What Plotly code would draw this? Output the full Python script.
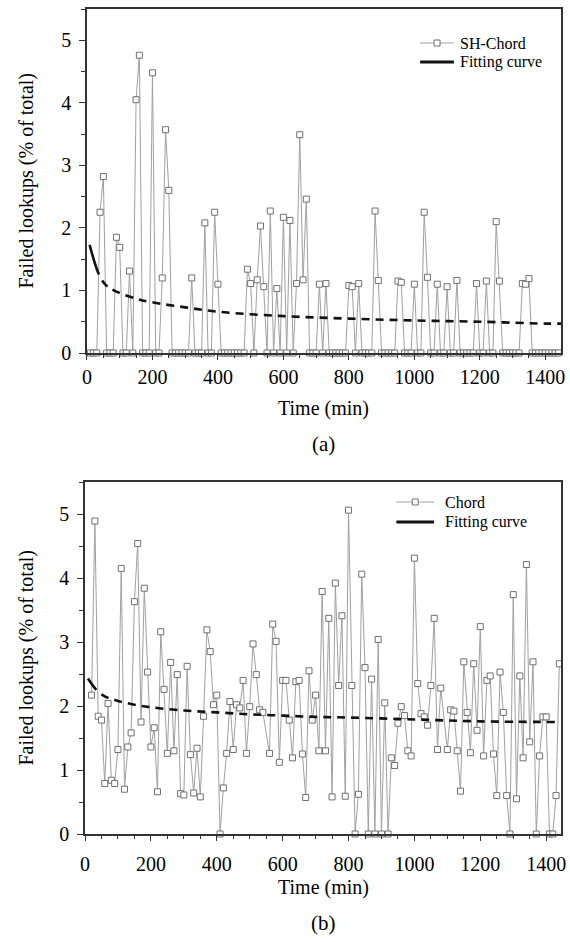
import plotly.graph_objects as go

FONT = "Liberation Serif, Times New Roman, serif"

# ---------------- data ----------------
# (a) SH-Chord, one sample every 10 min
top_time = [10, 20, 30, 40, 50, 60, 70, 80, 90, 100,
            110, 120, 130, 140, 150, 160, 170, 180, 190, 200,
            210, 220, 230, 240, 250, 260, 270, 280, 290, 300,
            310, 320, 330, 340, 350, 360, 370, 380, 390, 400,
            410, 420, 430, 440, 450, 460, 470, 480, 490, 500,
            510, 520, 530, 540, 550, 560, 570, 580, 590, 600,
            610, 620, 630, 640, 650, 660, 670, 680, 690, 700,
            710, 720, 730, 740, 750, 760, 770, 780, 790, 800,
            810, 820, 830, 840, 850, 860, 870, 880, 890, 900,
            910, 920, 930, 940, 950, 960, 970, 980, 990, 1000,
            1010, 1020, 1030, 1040, 1050, 1060, 1070, 1080, 1090, 1100,
            1110, 1120, 1130, 1140, 1150, 1160, 1170, 1180, 1190, 1200,
            1210, 1220, 1230, 1240, 1250, 1260, 1270, 1280, 1290, 1300,
            1310, 1320, 1330, 1340, 1350, 1360, 1370, 1380, 1390, 1400,
            1410, 1420, 1430, 1440, 1450]
top_sh_chord = [0, 0, 0, 2.25, 2.82, 0, 0, 0, 1.85, 1.69,
                0, 0, 1.31, 0, 4.05, 4.76, 0, 0, 0, 4.48,
                0, 0, 1.20, 3.57, 2.60, 0, 0, 0, 0, 0,
                0, 1.20, 0, 0, 0, 2.08, 0, 0, 2.25, 1.10,
                0, 0, 0, 0, 0, 0, 0, 0, 1.34, 1.11,
                0, 1.17, 2.03, 1.06, 0, 2.27, 0, 1.03, 0, 2.17,
                0, 2.12, 0, 1.11, 3.49, 1.17, 2.46, 0, 0, 0,
                1.10, 0, 1.11, 0, 0, 0, 0, 0, 0, 1.08,
                1.06, 0, 1.11, 0, 0, 0, 0, 2.27, 1.16, 0,
                0, 0, 0, 0, 1.15, 1.13, 0, 0, 0, 1.10,
                0, 0, 2.25, 1.21, 0, 0, 1.10, 0, 0, 1.06,
                0, 0, 1.16, 0, 0, 0, 0, 0, 1.11, 0,
                0, 1.15, 0, 0, 2.10, 1.15, 0, 0, 0, 0,
                0, 0, 1.11, 1.10, 1.19, 0, 0, 0, 0, 0,
                0, 0, 0, 0, 0]
top_fit_time = [8, 37, 57, 82, 150, 200, 300, 400, 600, 800, 1000, 1200, 1400, 1448]
top_fit_value = [1.73, 1.25, 1.09, 1.00, 0.87, 0.81, 0.73, 0.66, 0.59, 0.55, 0.52, 0.50, 0.47, 0.47]

# (b) Chord
bot_time = [20, 30, 40, 50, 60, 70, 80, 90, 100, 110,
            120, 130, 140, 150, 160, 170, 180, 190, 200, 210,
            220, 230, 240, 250, 260, 270, 280, 290, 300, 310,
            320, 330, 340, 350, 360, 370, 380, 390, 400, 410,
            420, 430, 440, 450, 460, 470, 480, 490, 500, 510,
            520, 530, 540, 560, 570, 580, 590, 600, 610,
            620, 630, 640, 650, 660, 670, 680, 690, 700, 710,
            720, 730, 740, 750, 760, 770, 780, 790, 800, 810,
            820, 830, 840, 850, 860, 870, 880, 890, 900, 910,
            920, 930, 940, 950, 960, 970, 980, 990, 1000, 1010,
            1020, 1030, 1040, 1050, 1060, 1070, 1080, 1100, 1110,
            1120, 1130, 1140, 1150, 1160, 1170, 1180, 1190, 1200, 1210,
            1220, 1230, 1240, 1250, 1260, 1270, 1280, 1290, 1300, 1310,
            1320, 1330, 1340, 1350, 1360, 1370, 1380, 1390, 1400, 1410,
            1420, 1430, 1440]
bot_chord = [2.17, 4.89, 1.84, 1.78, 0.79, 2.04, 0.84, 0.79, 1.32, 4.15,
             0.70, 1.36, 1.58, 3.63, 4.54, 1.75, 3.84, 2.53, 1.36, 1.66,
             0.66, 3.16, 2.26, 1.26, 2.68, 1.30, 2.49, 0.63, 0.61, 2.62,
             1.24, 0.64, 1.34, 0.58, 1.84, 3.19, 2.85, 2.02, 2.17, 0,
             0.72, 1.26, 2.07, 1.32, 2.02, 1.97, 2.40, 1.26, 1.99, 2.97,
             2.49, 1.94, 1.90, 1.26, 3.28, 3.01, 1.12, 2.40, 2.40,
             1.78, 1.19, 2.38, 2.40, 1.25, 0.57, 2.55, 1.78, 2.17, 1.30,
             3.79, 1.30, 3.37, 0.58, 3.92, 2.32, 3.41, 0.59, 5.06, 2.32,
             0, 0.62, 4.06, 2.60, 0, 2.42, 0, 3.04, 0, 2.05,
             0, 1.19, 1.07, 1.73, 1.99, 1.85, 1.30, 1.22, 4.31, 2.35,
             1.88, 1.83, 1.70, 2.32, 3.37, 1.32, 2.28, 1.32, 1.94,
             1.92, 1.30, 0.67, 2.69, 1.90, 1.27, 2.66, 1.62, 3.24, 1.22,
             2.40, 2.47, 1.25, 0.60, 2.53, 1.90, 0.60, 0, 3.74, 0.55,
             2.47, 1.19, 4.21, 1.44, 2.69, 0, 1.22, 1.83, 1.83, 0,
             0, 0.60, 2.66]
bot_fit_time = [9, 35, 60, 100, 150, 200, 300, 400, 500, 600, 700, 800, 1000, 1200, 1445]
bot_fit_value = [2.43, 2.25, 2.15, 2.08, 2.02, 1.98, 1.93, 1.90, 1.87, 1.85, 1.83, 1.82, 1.79, 1.76, 1.75]

x_ticks = [0, 200, 400, 600, 800, 1000, 1200, 1400]
y_ticks = [0, 1, 2, 3, 4, 5]

top_legend_labels = ["SH-Chord", "Fitting curve"]
bot_legend_labels = ["Chord", "Fitting curve"]

# ---------------- layout helpers ----------------
W, H = 570, 942
ML, MR, MT, MB = 85, 5, 9, 108
PW = W - ML - MR
PH = H - MT - MB


def px_x(p):
    return (p - ML) / PW


def px_y(p):
    return (H - MB - p) / PH


SERIES_COLOR = "#a0a0a0"
MARKER_EDGE = "#707070"
FIT_COLOR = "#111111"

series_line = dict(color=SERIES_COLOR, width=1)
series_marker = dict(symbol="square", size=6, color="white",
                     line=dict(color=MARKER_EDGE, width=1))
fit_dash_top = "31px,7px," + ",".join(["8px,6px"] * 45)
fit_dash_bot = "14px,7px," + ",".join(["8px,6px"] * 45)

fig = go.Figure()

# (a)
fig.add_trace(go.Scatter(x=top_time, y=top_sh_chord, mode="lines+markers", name="SH-Chord",
                         line=series_line, marker=series_marker, cliponaxis=False,
                         xaxis="x", yaxis="y", showlegend=False))
fig.add_trace(go.Scatter(x=top_fit_time, y=top_fit_value, mode="lines", name="Fitting curve",
                         line=dict(color=FIT_COLOR, width=2.6, dash=fit_dash_top, shape="spline"),
                         xaxis="x", yaxis="y", showlegend=False))

# (b)
fig.add_trace(go.Scatter(x=bot_time, y=bot_chord, mode="lines+markers", name="Chord",
                         line=series_line, marker=series_marker, cliponaxis=False,
                         xaxis="x2", yaxis="y2", showlegend=False))
fig.add_trace(go.Scatter(x=bot_fit_time, y=bot_fit_value, mode="lines", name="Fitting curve",
                         line=dict(color=FIT_COLOR, width=2.6, dash=fit_dash_bot, shape="spline"),
                         xaxis="x2", yaxis="y2", showlegend=False))

axis_common = dict(showline=True, linecolor="#333333", linewidth=1.5, mirror=True,
                   showgrid=False, zeroline=False, ticks="outside", tickcolor="#333333",
                   tickwidth=1, tickfont=dict(family=FONT, size=20, color="black"))

xa = dict(axis_common, tickmode="array", tickvals=x_ticks, ticklen=5,
          minor=dict(ticks="outside", tickmode="linear", tick0=0, dtick=50, ticklen=3,
                     tickcolor="#333333", tickwidth=1))
ya = dict(axis_common, tickmode="array", tickvals=y_ticks, range=[0, 5.5], ticklen=6,
          ticklabelstandoff=4,
          minor=dict(ticks="outside", tickmode="linear", tick0=0, dtick=0.5, ticklen=4,
                     tickcolor="#333333", tickwidth=1))

fig.update_layout(
    width=W, height=H,
    margin=dict(l=ML, r=MR, t=MT, b=MB),
    paper_bgcolor="white", plot_bgcolor="white",
    font=dict(family=FONT, color="black"),
    xaxis=dict(xa, domain=[px_x(87), 1], range=[0, 1448], anchor="y"),
    yaxis=dict(ya, domain=[px_y(353), px_y(9)], anchor="x"),
    xaxis2=dict(xa, domain=[0, 1], range=[0, 1445], anchor="y2", ticklabelstandoff=6),
    yaxis2=dict(ya, domain=[0, px_y(482)], anchor="x2"),
    showlegend=False,
)

ann_font = dict(family=FONT, size=20, color="black")
annotations = [
    dict(text="Failed lookups (% of total)", x=px_x(25), y=px_y(181), textangle=-90),
    dict(text="Failed lookups (% of total)", x=px_x(25), y=px_y(658), textangle=-90),
    dict(text="Time (min)", x=px_x(326), y=px_y(408)),
    dict(text="(a)", x=px_x(326), y=px_y(444), font=dict(family=FONT, size=21, color="black")),
    dict(text="Time (min)", x=px_x(326), y=px_y(887)),
    dict(text="(b)", x=px_x(326), y=px_y(923), font=dict(family=FONT, size=21, color="black")),
]
for a in annotations:
    base = dict(xref="paper", yref="paper", showarrow=False, xanchor="center",
                yanchor="middle", font=ann_font)
    base.update(a)
    fig.add_annotation(**base)

# ---------------- hand-drawn legends (swatch + text) ----------------
legend_font = dict(family=FONT, size=16, color="black")


def add_legend(labels, x0, x1, text_x, row_y):
    # series entry: gray line with a square marker
    y0 = row_y[0]
    fig.add_shape(type="line", xref="paper", yref="paper",
                  x0=px_x(x0), x1=px_x(x1), y0=px_y(y0), y1=px_y(y0),
                  line=dict(color=SERIES_COLOR, width=1))
    xm = (x0 + x1) / 2
    fig.add_shape(type="rect", xref="paper", yref="paper",
                  x0=px_x(xm - 3), x1=px_x(xm + 3), y0=px_y(y0 + 3), y1=px_y(y0 - 3),
                  line=dict(color=MARKER_EDGE, width=1), fillcolor="white")
    # fitting curve entry: solid black line
    y1 = row_y[1]
    fig.add_shape(type="line", xref="paper", yref="paper",
                  x0=px_x(x0), x1=px_x(x1), y0=px_y(y1), y1=px_y(y1),
                  line=dict(color=FIT_COLOR, width=3))
    for lab, yy in zip(labels, row_y):
        fig.add_annotation(text=lab, xref="paper", yref="paper", x=px_x(text_x), y=px_y(yy),
                           xanchor="left", yanchor="middle", showarrow=False, font=legend_font)


add_legend(top_legend_labels, 423, 457, 461, [43, 62])
add_legend(bot_legend_labels, 399, 437, 446, [502, 522])

fig.write_html("out.html", config={"displayModeBar": False},
               post_script="document.body.style.margin='0px';")
